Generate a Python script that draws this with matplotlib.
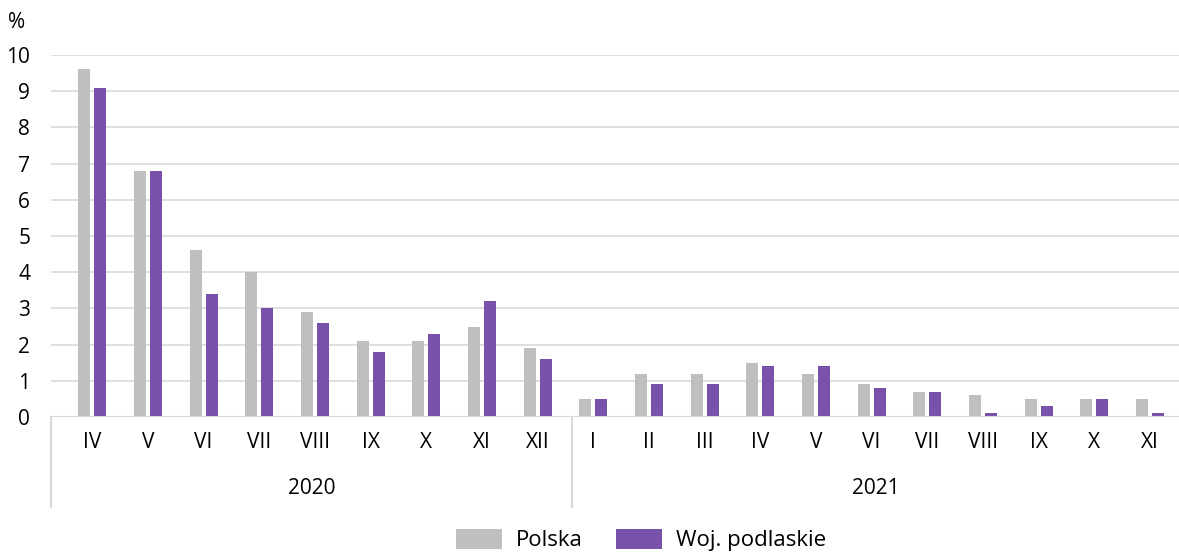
import numpy as np
import matplotlib.pyplot as plt
import matplotlib.transforms as mtransforms

months = ['IV', 'V', 'VI', 'VII', 'VIII', 'IX', 'X', 'XI', 'XII',
          'I', 'II', 'III', 'IV', 'V', 'VI', 'VII', 'VIII', 'IX', 'X', 'XI']
years = ['2020', '2021']
polska = [9.6, 6.8, 4.6, 4.0, 2.9, 2.1, 2.1, 2.5, 1.9,
          0.5, 1.2, 1.2, 1.5, 1.2, 0.9, 0.7, 0.6, 0.5, 0.5, 0.5]
podlaskie = [9.1, 6.8, 3.4, 3.0, 2.6, 1.8, 2.3, 3.2, 1.6,
             0.5, 0.9, 0.9, 1.4, 1.4, 0.8, 0.7, 0.1, 0.3, 0.5, 0.1]

plt.rcParams['font.family'] = ['Open Sans', 'DejaVu Sans']
fs = 15

fig = plt.figure(figsize=(11.79, 5.55), dpi=100)
ax = fig.add_axes([51 / 1179, 1 - 417 / 555, 1 - 51 / 1179, (417 - 55) / 555])

x = np.arange(len(months))
w = 0.215
off = 0.144
ax.bar(x - off, polska, w, color='#bfbfbf', label='Polska', zorder=3)
ax.bar(x + off, podlaskie, w, color='#7851a9', label='Woj. podlaskie', zorder=3)

ax.set_xlim(-0.74, 19.52)
ax.set_ylim(0, 10)
ax.set_yticks(range(0, 11))
ax.yaxis.grid(True, color='#d9d9d9', linewidth=1.2, zorder=0)
ax.axhline(0, color='#d9d9d9', linewidth=1.5, zorder=4)
for s in ax.spines.values():
    s.set_visible(False)
ax.tick_params(axis='y', length=0, pad=15, labelsize=fs)
ax.set_xticks(x)
ax.set_xticklabels(months)
ax.tick_params(axis='x', length=0, pad=11, labelsize=fs)

# separator lines below the axis and year labels
trans = mtransforms.blended_transform_factory(ax.transData, ax.transAxes)
bottom = (417 - 507) / (417 - 55)
div = 8.62
for xv in [-0.74, div]:
    ax.plot([xv, xv], [0, bottom], transform=trans, color='#d9d9d9',
            linewidth=1.5, clip_on=False)
ylab = (417 - 488) / (417 - 55)
ax.text((-0.74 + div) / 2, ylab, years[0], transform=trans,
        ha='center', va='center', fontsize=fs)
ax.text((div + 19.52) / 2, ylab, years[1], transform=trans,
        ha='center', va='center', fontsize=fs)

fig.text(17 / 1179, 1 - 22 / 555, '%', ha='center', va='center', fontsize=fs)

fig.legend(loc='center', bbox_to_anchor=(641 / 1179, 1 - 540 / 555), ncol=2,
           frameon=False, handlelength=2.07, handleheight=1.0,
           handletextpad=0.63, columnspacing=1.53, fontsize=16)

fig.savefig('out.png', dpi=100)
